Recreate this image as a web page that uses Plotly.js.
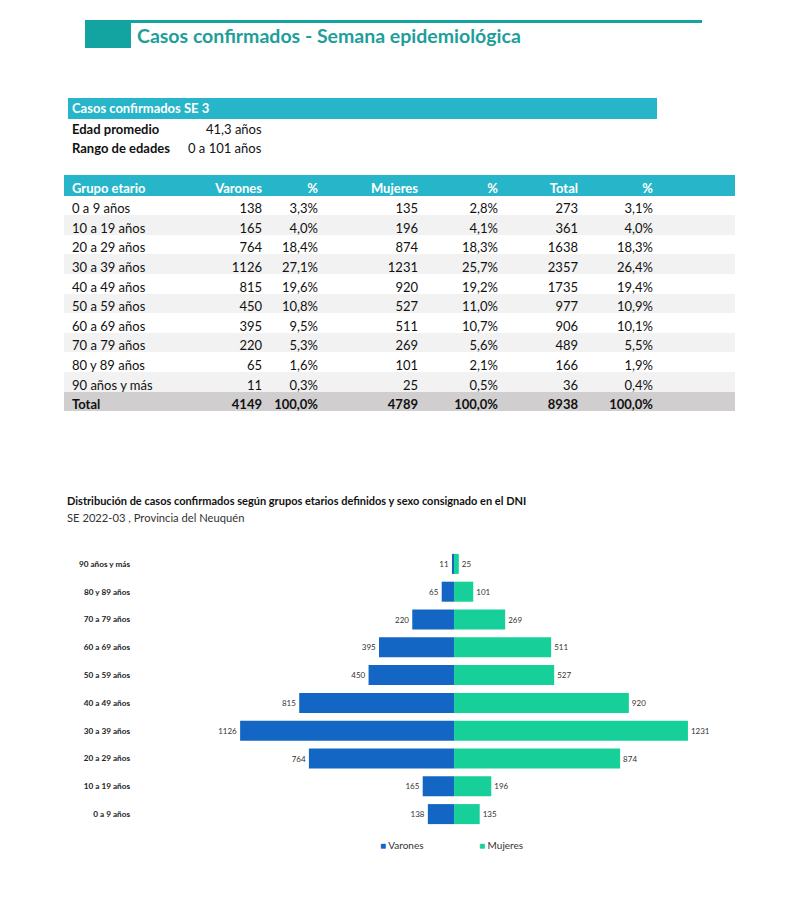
<!DOCTYPE html>
<html>
<head>
<meta charset="utf-8">
<script src="https://cdn.plot.ly/plotly-3.0.1.min.js"></script>
<style>
html,body{margin:0;padding:0;background:#fff;}
#chart{width:804px;height:918px;}
</style>
</head>
<body>
<div id="chart"></div>
<script>
// ---------- DATA ----------
const groups = ["0 a 9 años","10 a 19 años","20 a 29 años","30 a 39 años","40 a 49 años","50 a 59 años","60 a 69 años","70 a 79 años","80 y 89 años","90 años y más"];
const varones = [138,165,764,1126,815,450,395,220,65,11];
const varonesPct = [3.3,4.0,18.4,27.1,19.6,10.8,9.5,5.3,1.6,0.3];
const mujeres = [135,196,874,1231,920,527,511,269,101,25];
const mujeresPct = [2.8,4.1,18.3,25.7,19.2,11.0,10.7,5.6,2.1,0.5];
const totales = [273,361,1638,2357,1735,977,906,489,166,36];
const totalesPct = [3.1,4.0,18.3,26.4,19.4,10.9,10.1,5.5,1.9,0.4];
const totalRow = {label:"Total", varones:4149, varonesPct:100.0, mujeres:4789, mujeresPct:100.0, total:8938, totalPct:100.0};
const tableHeaders = ["Grupo etario","Varones","%","Mujeres","%","Total","%",""];
const summaryTitle = "Casos confirmados SE 3";
const summaryLabels = ["Edad promedio","Rango de edades"];
const summaryValues = ["41,3 años","0 a 101 años"];
const pageTitle = "Casos confirmados - Semana epidemiológica";
const chartTitle = "Distribución de casos confirmados según grupos etarios definidos y sexo consignado en el DNI";
const chartSubtitle = "SE 2022-03 , Provincia del Neuquén";
const seriesNames = ["Varones","Mujeres"];

// ---------- HELPERS ----------
const W = 804, H = 918;
const px = x => x / W;
const py = y => 1 - y / H;
const pct = v => v.toFixed(1).replace('.', ',') + '%';
const nb = s => String(s).replace(/ /g, '\u00a0');
const FONT = 'Lato, "Open Sans", sans-serif';
const C_BLUE = '#1466c4', C_GREEN = '#17cf98';
const C_HEAD = '#27b5c9', C_TEAL = '#13a3a0';
const b = s => '<b>' + s + '</b>';

// ---------- TABLE ----------
const col0 = groups.map(nb).concat([totalRow.label]);
const col1 = varones.map(String).concat([String(totalRow.varones)]);
const col2 = varonesPct.map(pct).concat([pct(totalRow.varonesPct)]);
const col3 = mujeres.map(String).concat([String(totalRow.mujeres)]);
const col4 = mujeresPct.map(pct).concat([pct(totalRow.mujeresPct)]);
const col5 = totales.map(String).concat([String(totalRow.total)]);
const col6 = totalesPct.map(pct).concat([pct(totalRow.totalPct)]);
const col7 = col0.map(() => '\u00a0');
const cols = [col0,col1,col2,col3,col4,col5,col6,col7];
const nRows = col0.length;
const rowColors = col0.map((_, i) => i === nRows - 1 ? '#d0cece' : (i % 2 === 1 ? '#f2f2f2' : '#ffffff'));
const rowWeights = col0.map((_, i) => i === nRows - 1 ? 'bold' : 'normal');

const table = {
  type: 'table',
  domain: {x: [px(64), px(735)], y: [py(460), py(175)]},
  columnwidth: [136, 70, 56, 100, 80, 80, 75, 74],
  header: {
    values: tableHeaders.map(h => h === '' ? '\u00a0' : nb(h)),
    align: ['left','right','right','right','right','right','right','right'],
    fill: {color: C_HEAD},
    line: {color: C_HEAD, width: 0},
    font: {family: FONT, size: 13, color: '#ffffff', weight: 'bold'},
    height: 20.5
  },
  cells: {
    values: cols,
    align: ['left','right','right','right','right','right','right','right'],
    fill: {color: cols.map(() => rowColors)},
    line: {color: 'rgba(0,0,0,0)', width: 0},
    font: {family: FONT, size: 13, color: '#111111', weight: cols.map(() => rowWeights)},
    height: 19.6
  },
  hoverinfo: 'skip'
};

// ---------- PYRAMID ----------
const tVar = {
  type: 'bar', orientation: 'h', name: seriesNames[0],
  y: groups, x: varones.map(v => -v),
  text: varones.map(String), textposition: 'outside',
  textfont: {family: FONT, size: 8, color: '#333'},
  marker: {color: C_BLUE},
  cliponaxis: false, showlegend: false, hoverinfo: 'skip'
};
const tMuj = {
  type: 'bar', orientation: 'h', name: seriesNames[1],
  y: groups, x: mujeres,
  text: mujeres.map(String), textposition: 'outside',
  textfont: {family: FONT, size: 8, color: '#333'},
  marker: {color: C_GREEN},
  cliponaxis: false, showlegend: false, hoverinfo: 'skip'
};

// ---------- LAYOUT ----------
const ann = [];
ann.push({xref:'paper', yref:'paper', x:px(135), y:py(35), xanchor:'left', yanchor:'middle', showarrow:false,
  text: pageTitle, font:{family:FONT, size:19.5, color:'#1e9e9a', weight:'bold'}});
ann.push({xref:'paper', yref:'paper', x:px(70), y:py(108.5), xanchor:'left', yanchor:'middle', showarrow:false,
  text: b(summaryTitle), font:{family:FONT, size:13, color:'#ffffff'}});
summaryLabels.forEach((l, i) => {
  const yy = 129 + i * 19.5;
  ann.push({xref:'paper', yref:'paper', x:px(70), y:py(yy), xanchor:'left', yanchor:'middle', showarrow:false,
    text: b(l), font:{family:FONT, size:13, color:'#111'}});
  ann.push({xref:'paper', yref:'paper', x:px(264), y:py(yy), xanchor:'right', yanchor:'middle', showarrow:false,
    text: summaryValues[i], font:{family:FONT, size:13, color:'#111'}});
});
ann.push({xref:'paper', yref:'paper', x:px(65), y:py(500), xanchor:'left', yanchor:'middle', showarrow:false,
  text: b(chartTitle), font:{family:FONT, size:11, color:'#111'}});
ann.push({xref:'paper', yref:'paper', x:px(65), y:py(517), xanchor:'left', yanchor:'middle', showarrow:false,
  text: chartSubtitle, font:{family:FONT, size:11.2, color:'#333'}});
// legend
[[378, C_BLUE, seriesNames[0]], [477, C_GREEN, seriesNames[1]]].forEach(([x, c, n]) => {
  ann.push({xref:'paper', yref:'paper', x:px(x), y:py(845), xanchor:'left', yanchor:'middle', showarrow:false,
    text: "<span style='color:" + c + "'>■</span> " + n, font:{family:FONT, size:10, color:'#333'}});
});

const layout = {
  width: W, height: H,
  margin: {l:0, r:0, t:0, b:0},
  paper_bgcolor: '#fff', plot_bgcolor: '#fff',
  showlegend: false,
  barmode: 'relative', bargap: 0.28,
  xaxis: {domain:[px(136), px(740)], range:[-1674, 1505], showgrid:false, zeroline:false,
    showticklabels:false, fixedrange:true},
  yaxis: {domain:[py(828), py(550)], type:'category', showgrid:false, zeroline:false,
    showline:false, ticks:'', ticklabelstandoff:5,
    tickfont:{family:FONT, size:8.2, color:'#222', weight:'bold'}, fixedrange:true},
  shapes: [
    {type:'line', xref:'paper', yref:'paper', x0:px(85), x1:px(702), y0:py(21.5), y1:py(21.5),
      line:{color:C_TEAL, width:3}},
    {type:'rect', xref:'paper', yref:'paper', x0:px(85), x1:px(131), y0:py(48), y1:py(21),
      fillcolor:C_TEAL, line:{width:0}},
    {type:'rect', xref:'paper', yref:'paper', x0:px(68), x1:px(657), y0:py(119), y1:py(98),
      fillcolor:C_HEAD, line:{width:0}}
  ],
  annotations: ann
};

Plotly.newPlot('chart', [table, tVar, tMuj], layout, {displayModeBar:false, staticPlot:true});
</script>
</body>
</html>
